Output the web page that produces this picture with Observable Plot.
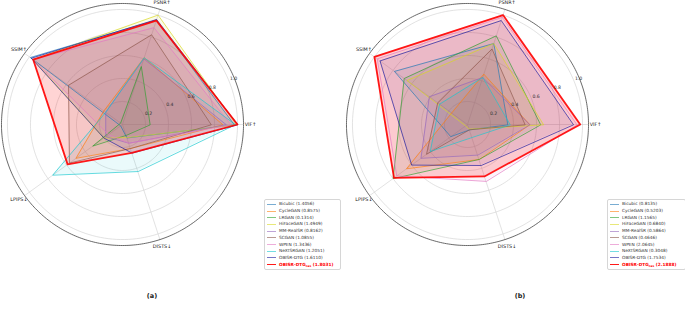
<!DOCTYPE html>
<html><head><meta charset="utf-8">
<script src="https://cdn.jsdelivr.net/npm/d3@7"></script>
<script src="https://cdn.jsdelivr.net/npm/@observablehq/plot@0.6"></script>
<style>
body{margin:0;background:#fff;font-family:"DejaVu Sans",sans-serif;}
#root{position:relative;width:685px;height:318px;overflow:hidden;background:#fff;}
.panel{position:absolute;top:0;overflow:visible;}
.legend{position:absolute;border:0.8px solid #d6d6d6;border-radius:2px;background:rgba(255,255,255,0.85);}
.row{position:absolute;left:0;height:6px;font-size:4.3px;line-height:6px;color:#333;white-space:nowrap;}
.row .sw{position:absolute;left:2px;top:2.6px;width:9px;height:0;border-top:1px solid;}
.row .tx{position:absolute;left:14px;top:0;}
.cap{position:absolute;font-weight:bold;font-size:6.5px;color:#222;transform:translateX(-50%);}
</style></head>
<body><div id="root"></div>
<script>
const metrics = ["VIF↑", "PSNR↑", "SSIM↑", "LPIPS↓", "DISTS↓"];
const methods = ["Bicubic", "CycleGAN", "LRGAN", "HiFaceGAN", "MM-RealSR", "SCGAN", "WPEN", "NeXtSRGAN", "OBISR-DTG", "OBISR-DTG_cas"];
const colors = ["#1f77b4", "#ff7f0e", "#2ca02c", "#d8d820", "#9467bd", "#8c564b", "#e377c2", "#17c8cf", "#1a1a9e", "#ff0000"];
const scoresA = ["1.4056", "0.8575", "0.1314", "1.4949", "0.8162", "1.0855", "1.3436", "1.2051", "1.6110", "1.8031"];
const scoresB = ["0.8135", "0.5203", "1.1565", "0.6840", "0.5864", "0.4646", "2.0645", "0.3048", "1.7534", "2.1888"];
const radialTicks = [0.2, 0.4, 0.6, 0.8, 1.0];
// values per method in metric order [VIF, PSNR, SSIM, LPIPS, DISTS]
const valuesA = [
  [0.97, 0.955, 0.99, 0.02, 0.12],
  [0.87, 0.61, 0.20, 0.50, 0.22],
  [0.24, 0.53, 0.02, 0.32, 0.10],
  [0.99, 1.00, 0.96, 0.20, 0.12],
  [0.90, 0.60, 0.18, 0.18, 0.17],
  [0.77, 0.82, 0.58, 0.57, 0.22],
  [0.94, 0.885, 0.96, 0.15, 0.17],
  [0.98, 0.61, 0.18, 0.75, 0.43],
  [1.00, 0.96, 0.98, 0.20, 0.26],
  [1.00, 0.95, 0.96, 0.59, 0.26]
];
const valuesB = [
  [0.35, 0.74, 0.785, 0.18, 0.05],
  [0.54, 0.46, 0.17, 0.655, 0.32],
  [0.635, 0.81, 0.68, 0.80, 0.32],
  [0.66, 0.74, 0.65, 0.02, 0.04],
  [0.54, 0.43, 0.41, 0.50, 0.28],
  [0.50, 0.69, 0.32, 0.44, 0.05],
  [0.95, 0.98, 0.97, 0.76, 0.52],
  [0.37, 0.43, 0.30, 0.40, 0.12],
  [0.92, 0.95, 0.94, 0.60, 0.375],
  [0.98, 1.00, 1.00, 0.79, 0.475]
];

const RMAX = 1.052;
const angle = d3.scaleLinear().domain([0, metrics.length]).range([0, 360]);
const lonOf = (deg) => { let l = deg + 90; if (l > 180) l -= 360; return l; };
const metricLon = (m) => lonOf(angle(metrics.indexOf(m)));

function longData(values) {
  const out = [];
  methods.forEach((name, i) => metrics.forEach((m, j) => out.push({name, metric: m, value: values[i][j]})));
  return out;
}

function panel(values) {
  const data = longData(values);
  return Plot.plot({
    width: 303, height: 253,
    marginLeft: 1, marginTop: 3, marginRight: 60, marginBottom: 8,
    projection: {type: "azimuthal-equidistant", rotate: [0, -90], clip: false, domain: d3.geoCircle().center([0, 90]).radius(RMAX)()},
    color: {domain: methods, range: colors},
    style: {fontFamily: "DejaVu Sans, sans-serif", fontSize: "4.8px", color: "#333", background: "transparent", overflow: "visible"},
    marks: [
      Plot.geo(radialTicks, {geometry: r => d3.geoCircle().center([0, 90]).radius(r).precision(2)(), stroke: "#cfcfcf", strokeWidth: 0.6, fill: "none"}),
      Plot.link(metrics, {x1: metricLon, y1: 90 - RMAX, x2: 0, y2: 90, stroke: "#cfcfcf", strokeWidth: 0.6}),
      Plot.area(data, {x1: d => metricLon(d.metric), y1: d => 90 - d.value, x2: 0, y2: 90, z: "name", fill: "name",
        fillOpacity: d => d.name === "OBISR-DTG_cas" ? 0.17 : 0.09, curve: "linear-closed"}),
      Plot.line(data, {x: d => metricLon(d.metric), y: d => 90 - d.value, z: "name", stroke: "name",
        strokeWidth: d => d.name === "OBISR-DTG_cas" ? 1.8 : 0.9,
        strokeOpacity: d => d.name === "OBISR-DTG_cas" ? 0.9 : 0.75, curve: "linear-closed"}),
      Plot.geo([RMAX], {geometry: r => d3.geoCircle().center([0, 90]).radius(r).precision(1)(), stroke: "#444", strokeWidth: 0.8, fill: "none"}),
      Plot.text(radialTicks, {x: lonOf(22.5), y: r => 90 - r - 0.045, text: r => r.toFixed(1), fill: "#333", fontSize: 4.6}),
      Plot.text(metrics, {x: metricLon, y: 90 - 1.113, text: d => d, fill: "#222", fontSize: 4.9})
    ]
  });
}

function legend(scores, left, top, width, height) {
  const box = document.createElement("div");
  box.className = "legend";
  Object.assign(box.style, {left: left + "px", top: top + "px", width: width + "px", height: height + "px"});
  methods.forEach((name, i) => {
    const row = document.createElement("div");
    row.className = "row";
    row.style.top = (1.3 + i * 6.7) + "px";
    const sw = document.createElement("div");
    sw.className = "sw";
    sw.style.borderTopColor = colors[i];
    sw.style.opacity = i === methods.length - 1 ? 0.9 : 0.6;
    if (i === methods.length - 1) sw.style.borderTopWidth = "1.5px";
    const tx = document.createElement("span");
    tx.className = "tx";
    if (name === "OBISR-DTG_cas") {
      tx.innerHTML = `OBISR-DTG<sub style="font-size:3px;vertical-align:-1px">cas</sub> (${scores[i]})`;
      tx.style.color = "#ff0000";
      tx.style.fontWeight = "bold";
    } else {
      tx.textContent = `${name} (${scores[i]})`;
    }
    row.appendChild(sw); row.appendChild(tx);
    box.appendChild(row);
  });
  return box;
}

const root = document.getElementById("root");
const pa = panel(valuesA); pa.classList.add("panel"); pa.style.left = "0px";
const pb = panel(valuesB); pb.classList.add("panel"); pb.style.left = "345px";
root.appendChild(pa); root.appendChild(pb);
root.appendChild(legend(scoresA, 264, 199, 75, 69));
root.appendChild(legend(scoresB, 607, 199, 77, 69));
for (const [t, x] of [["(a)", 152], ["(b)", 520]]) {
  const c = document.createElement("div");
  c.className = "cap"; c.textContent = t;
  c.style.left = x + "px"; c.style.top = "292px";
  root.appendChild(c);
}
</script></body></html>
